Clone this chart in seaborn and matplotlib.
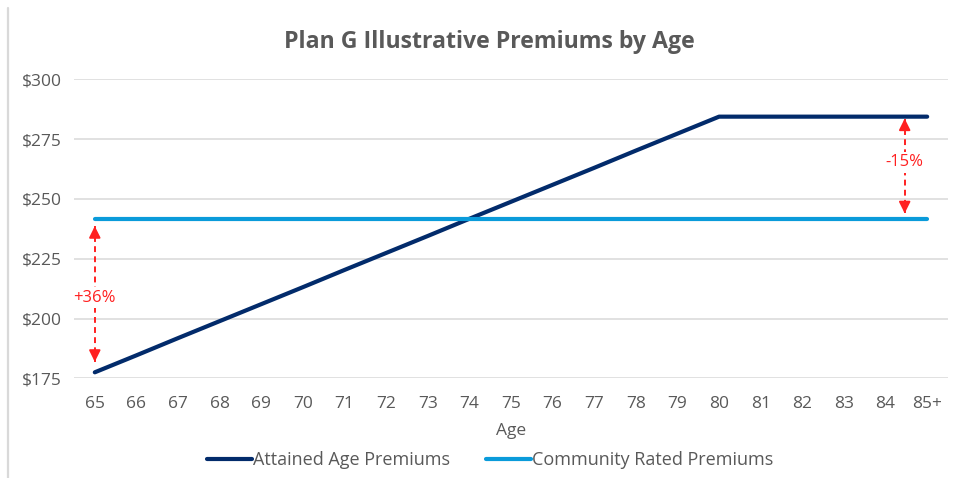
import matplotlib
matplotlib.use("Agg")
import matplotlib.pyplot as plt
from matplotlib.lines import Line2D
import seaborn as sns
import pandas as pd

# Chart data
ages = ["65", "66", "67", "68", "69", "70", "71", "72", "73", "74", "75",
        "76", "77", "78", "79", "80", "81", "82", "83", "84", "85+"]
attained_age = [177.5, 184.6, 191.8, 198.9, 206.0, 213.1, 220.3, 227.4, 234.5,
                241.7, 248.8, 255.9, 263.0, 270.2, 277.3, 284.4, 284.4, 284.4,
                284.4, 284.4, 284.4]
community_rated = [241.6] * 21
series_names = ["Attained Age Premiums", "Community Rated Premiums"]
y_ticks = [175, 200, 225, 250, 275, 300]
low_gap_label = "+36%"
high_gap_label = "-15%"

GRAY = "#595959"
NAVY = "#022B6B"
SKY = "#0A9BDA"
RED = "#FF2020"

sns.set_theme(style="white")
plt.rcParams["font.family"] = ["Open Sans", "DejaVu Sans"]

df = pd.DataFrame({
    "Age": ages * 2,
    "Premium": attained_age + community_rated,
    "Series": [series_names[0]] * len(ages) + [series_names[1]] * len(ages),
})

fig = plt.figure(figsize=(9.56, 4.78), dpi=100)
ax = fig.add_axes([0.0774, 0.2086, 0.9142, 0.6254])

sns.lineplot(data=df, x="Age", y="Premium", hue="Series",
             palette=[NAVY, SKY], linewidth=3.0, ax=ax,
             solid_capstyle="round", legend=True)
handles, labels = ax.get_legend_handles_labels()
ax.get_legend().remove()

ax.set_xlim(-0.5, len(ages) - 0.5)
ax.set_ylim(175, 300)
ax.set_yticks(y_ticks)
ax.set_yticklabels([f"${v}" for v in y_ticks])
ax.grid(axis="y", color="#D9D9D9", linewidth=1.1)
ax.set_axisbelow(True)
for s in ax.spines.values():
    s.set_visible(False)
ax.tick_params(axis="both", length=0, labelsize=12.5, labelcolor=GRAY)
ax.tick_params(axis="x", pad=13)
ax.tick_params(axis="y", pad=9)
ax.set_xlabel("Age", fontsize=12.5, color=GRAY, labelpad=8)
ax.set_ylabel("")

# Gap annotations: dashed vertical span with arrowheads and a percentage label
def gap_marker(x, y_from, y_to, y_text, text):
    ax.plot([x, x], [y_from, y_to], color=RED, linewidth=1.4,
            linestyle=(0, (3, 2.2)), zorder=4)
    for tip, tail in ((y_from, y_from + (y_to - y_from) * 0.09),
                      (y_to, y_to - (y_to - y_from) * 0.09)):
        ax.annotate("", xy=(x, tip), xytext=(x, tail),
                    arrowprops=dict(arrowstyle="-|>", color=RED, lw=1.4,
                                    mutation_scale=17, shrinkA=0, shrinkB=0),
                    zorder=5)
    ax.text(x, y_text, text, color=RED, fontsize=12, ha="center",
            va="center", zorder=6,
            bbox=dict(boxstyle="square,pad=0.15", fc="white", ec="none"))

gap_marker(0, community_rated[0] - 3.0, attained_age[0] + 4.4, 208.6, low_gap_label)
gap_marker(19.46, attained_age[-1] - 0.8, community_rated[-1] + 2.4, 265.4, high_gap_label)

fig.text(0.5115, 0.912, "Plan G Illustrative Premiums by Age", ha="center",
         va="center", fontsize=16.7, fontweight="bold", color=GRAY)

fig.legend(handles, labels, loc="center", bbox_to_anchor=(0.513, 0.038),
           ncol=2, frameon=False, fontsize=13, labelcolor=GRAY,
           handlelength=2.5, handletextpad=0.05, columnspacing=2.0)

# Chart frame edge on the left
fig.add_artist(Line2D([7.5 / 956, 7.5 / 956], [0, 1 - 8 / 478],
                      transform=fig.transFigure, color="#D9D9D9", linewidth=1.6))

fig.savefig("out.png", dpi=100)
